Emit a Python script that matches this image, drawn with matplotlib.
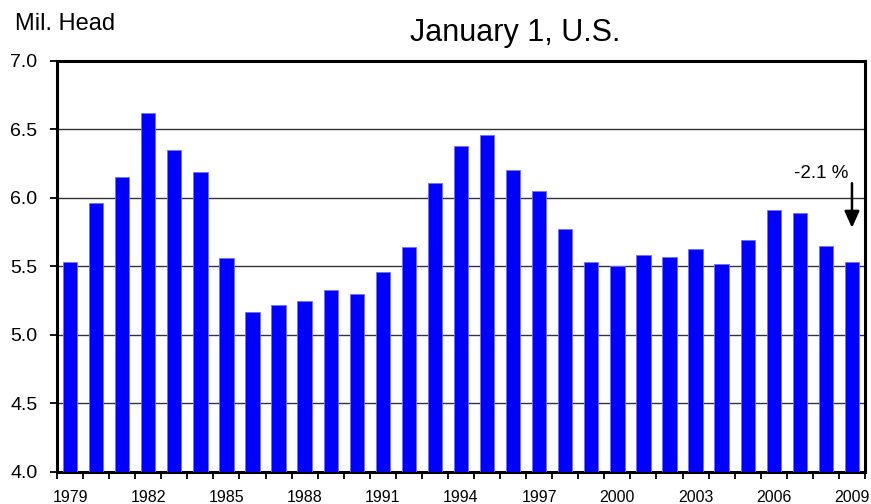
import matplotlib
matplotlib.use("Agg")
import matplotlib.pyplot as plt
import numpy as np

years = list(range(1979, 2010))
values = [5.53, 5.96, 6.15, 6.62, 6.35, 6.19, 5.56, 5.17, 5.215, 5.25,
          5.33, 5.295, 5.455, 5.64, 6.11, 6.38, 6.46, 6.20, 6.05, 5.77,
          5.53, 5.505, 5.585, 5.57, 5.625, 5.52, 5.695, 5.91, 5.885, 5.65,
          5.53]
label_years = [str(y) for y in range(1979, 2010, 3)]
yticks = [4.0, 4.5, 5.0, 5.5, 6.0, 6.5, 7.0]
title = "January 1, U.S."
ylabel = "Mil. Head"
note = "-2.1 %"

plt.rcParams['font.family'] = ['Liberation Sans', 'DejaVu Sans']

fig = plt.figure(figsize=(8.71, 5.04), dpi=100)
ax = fig.add_axes([57/871, 1-472/504, (865-57)/871, (472-60.5)/504])

x = np.arange(len(years))
ax.bar(x, values, width=0.55, color='#0000ff', edgecolor='#7070ff', linewidth=0.6, zorder=3)

ax.set_ylim(4.0, 7.0)
ax.set_xlim(-0.5, len(years) - 0.5)
ax.set_yticks(yticks)
ax.set_yticklabels([f"{v:.1f}" for v in yticks], fontsize=14)
ax.yaxis.grid(True, color='#333333', linewidth=1.0, zorder=1)
ax.set_axisbelow(True)

lab_pos = [years.index(int(s)) for s in label_years]
ax.set_xticks(lab_pos)
ax.set_xticklabels(label_years, fontsize=11.5)
ax.set_xticks(np.arange(-0.5, len(years)), minor=True)
ax.tick_params(axis='x', which='major', length=0, pad=13)
ax.tick_params(axis='x', which='minor', length=5, width=1.3, direction='out')
ax.tick_params(axis='y', which='major', length=5, width=1.3, direction='out', pad=9)

for s in ax.spines.values():
    s.set_linewidth(2.2)
    s.set_color('black')

# annotation for last year
last = len(years) - 1
ax.annotate('', xy=(last, 5.78), xytext=(last, 6.105),
            arrowprops=dict(arrowstyle='-|>,head_width=0.45,head_length=1.0',
                            color='black', lw=1.8, shrinkA=0, shrinkB=0), zorder=5)
ax.text(last - 1.17, 6.175, note, fontsize=13.5, ha='center', va='center', zorder=5)

fig.text(515/871, 1-41/504, title, fontsize=22, ha='center', va='baseline')
fig.text(15/871, 1-30/504, ylabel, fontsize=17, ha='left', va='baseline')

fig.savefig('out.png', dpi=100)
